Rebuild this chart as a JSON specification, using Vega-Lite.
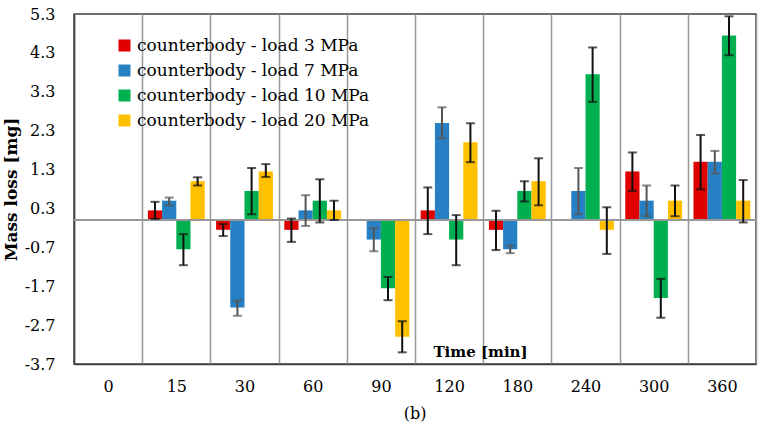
{
  "$schema": "https://vega.github.io/schema/vega-lite/v6.json",
  "width": 682,
  "height": 350,
  "autosize": {"type": "none"},
  "padding": {"left": 74, "top": 14, "right": 12, "bottom": 76},
  "background": "white",
  "config": {
    "font": "DejaVu Serif",
    "view": {"stroke": "#404040", "strokeWidth": 1.5},
    "axis": {"labelOverlap": false},
    "axisY": {"labelOverlap": false}
  },
  "title": {"text": "(b)", "orient": "bottom", "anchor": "middle", "fontSize": 16, "font": "DejaVu Serif", "fontWeight": "normal", "offset": 12, "color": "#000"},
  "data": {
    "values": [
      {"t": "15", "s": "counterbody - load 3 MPa", "v": 0.25, "lo": 0.03, "hi": 0.47},
      {"t": "15", "s": "counterbody - load 7 MPa", "v": 0.5, "lo": 0.38, "hi": 0.58},
      {"t": "15", "s": "counterbody - load 10 MPa", "v": -0.75, "lo": -1.16, "hi": -0.36},
      {"t": "15", "s": "counterbody - load 20 MPa", "v": 1.0, "lo": 0.89, "hi": 1.1},
      {"t": "30", "s": "counterbody - load 3 MPa", "v": -0.25, "lo": -0.41, "hi": -0.1},
      {"t": "30", "s": "counterbody - load 7 MPa", "v": -2.25, "lo": -2.46, "hi": -2.07},
      {"t": "30", "s": "counterbody - load 10 MPa", "v": 0.75, "lo": 0.15, "hi": 1.34},
      {"t": "30", "s": "counterbody - load 20 MPa", "v": 1.25, "lo": 1.11, "hi": 1.44},
      {"t": "60", "s": "counterbody - load 3 MPa", "v": -0.25, "lo": -0.56, "hi": 0.04},
      {"t": "60", "s": "counterbody - load 7 MPa", "v": 0.25, "lo": -0.15, "hi": 0.64},
      {"t": "60", "s": "counterbody - load 10 MPa", "v": 0.5, "lo": -0.06, "hi": 1.05},
      {"t": "60", "s": "counterbody - load 20 MPa", "v": 0.25, "lo": 0.0, "hi": 0.5},
      {"t": "90", "s": "counterbody - load 7 MPa", "v": -0.5, "lo": -0.8, "hi": -0.21},
      {"t": "90", "s": "counterbody - load 10 MPa", "v": -1.75, "lo": -2.06, "hi": -1.46},
      {"t": "90", "s": "counterbody - load 20 MPa", "v": -3.0, "lo": -3.4, "hi": -2.6},
      {"t": "120", "s": "counterbody - load 3 MPa", "v": 0.25, "lo": -0.36, "hi": 0.84},
      {"t": "120", "s": "counterbody - load 7 MPa", "v": 2.5, "lo": 2.1, "hi": 2.9},
      {"t": "120", "s": "counterbody - load 10 MPa", "v": -0.5, "lo": -1.16, "hi": 0.13},
      {"t": "120", "s": "counterbody - load 20 MPa", "v": 2.0, "lo": 1.49, "hi": 2.49},
      {"t": "180", "s": "counterbody - load 3 MPa", "v": -0.25, "lo": -0.77, "hi": 0.24},
      {"t": "180", "s": "counterbody - load 7 MPa", "v": -0.75, "lo": -0.85, "hi": -0.65},
      {"t": "180", "s": "counterbody - load 10 MPa", "v": 0.75, "lo": 0.48, "hi": 1.0},
      {"t": "180", "s": "counterbody - load 20 MPa", "v": 1.0, "lo": 0.38, "hi": 1.59},
      {"t": "240", "s": "counterbody - load 7 MPa", "v": 0.75, "lo": 0.15, "hi": 1.34},
      {"t": "240", "s": "counterbody - load 10 MPa", "v": 3.75, "lo": 3.04, "hi": 4.44},
      {"t": "240", "s": "counterbody - load 20 MPa", "v": -0.25, "lo": -0.87, "hi": 0.33},
      {"t": "300", "s": "counterbody - load 3 MPa", "v": 1.25, "lo": 0.75, "hi": 1.74},
      {"t": "300", "s": "counterbody - load 7 MPa", "v": 0.5, "lo": 0.1, "hi": 0.89},
      {"t": "300", "s": "counterbody - load 10 MPa", "v": -2.0, "lo": -2.51, "hi": -1.51},
      {"t": "300", "s": "counterbody - load 20 MPa", "v": 0.5, "lo": 0.1, "hi": 0.89},
      {"t": "360", "s": "counterbody - load 3 MPa", "v": 1.5, "lo": 0.79, "hi": 2.19},
      {"t": "360", "s": "counterbody - load 7 MPa", "v": 1.5, "lo": 1.2, "hi": 1.78},
      {"t": "360", "s": "counterbody - load 10 MPa", "v": 4.75, "lo": 4.24, "hi": 5.24},
      {"t": "360", "s": "counterbody - load 20 MPa", "v": 0.5, "lo": -0.06, "hi": 1.03}
    ]
  },
  "encoding": {
    "x": {
      "field": "t", "type": "nominal",
      "scale": {"domain": ["0", "15", "30", "60", "90", "120", "180", "240", "300", "360"], "paddingInner": 0, "paddingOuter": 0},
      "axis": {
        "title": "Time [min]", "titleFont": "DejaVu Serif", "titleFontSize": 15, "titleFontWeight": "bold", "titleColor": "#000",
        "titleAnchor": "start", "titleAlign": "center", "titleX": 406, "titleY": -13, "titleBaseline": "middle",
        "labelAngle": 0, "labelFont": "DejaVu Serif", "labelFontSize": 16, "labelColor": "#000", "labelPadding": 14,
        "ticks": false, "tickBand": "extent", "grid": true, "gridColor": "#999999", "gridWidth": 1.5,
        "domainColor": "#404040", "domainWidth": 1.5
      }
    },
    "xOffset": {
      "field": "s", "type": "nominal",
      "scale": {"domain": ["counterbody - load 3 MPa", "counterbody - load 7 MPa", "counterbody - load 10 MPa", "counterbody - load 20 MPa"], "paddingInner": 0, "paddingOuter": 0.4}
    },
    "y": {
      "field": "v", "type": "quantitative",
      "scale": {"domain": [-3.7, 5.3], "nice": false, "zero": false},
      "axis": {
        "title": "Mass loss [mg]", "titleFont": "DejaVu Serif", "titleFontSize": 17, "titleFontWeight": "bold", "titleColor": "#000", "titlePadding": 4,
        "values": [-3.7, -2.7, -1.7, -0.7, 0.3, 1.3, 2.3, 3.3, 4.3, 5.3],
        "format": ".1f",
        "labelExpr": "replace(datum.label, '\u2212', '-')",
        "labelOverlap": false,
        "labelFont": "DejaVu Serif", "labelFontSize": 16, "labelColor": "#000", "labelPadding": 19,
        "ticks": false, "grid": false, "domainColor": "#404040", "domainWidth": 1.5
      }
    }
  },
  "layer": [
    {
      "mark": {"type": "bar"},
      "encoding": {
        "color": {
          "field": "s", "type": "nominal",
          "scale": {"domain": ["counterbody - load 3 MPa", "counterbody - load 7 MPa", "counterbody - load 10 MPa", "counterbody - load 20 MPa"], "range": ["#e00000", "#2780c3", "#00b050", "#ffc000"]},
          "legend": {
            "title": null, "orient": "none", "legendX": 42, "legendY": 23,
            "symbolType": "square", "symbolSize": 144, "symbolStrokeWidth": 0,
            "labelFont": "DejaVu Serif", "labelFontSize": 17, "labelColor": "#000", "labelOffset": 4,
            "rowPadding": 7, "padding": 0, "labelLimit": 400
          }
        }
      }
    },
    {
      "mark": {"type": "rule", "color": "#999999", "strokeWidth": 1.5},
      "encoding": {"y": {"datum": 0}, "x": null, "xOffset": null}
    },
    {
      "mark": {"type": "rule", "color": "#111111", "strokeWidth": 2},
      "encoding": {
        "y": {"field": "lo", "type": "quantitative"}, "y2": {"field": "hi"},
        "strokeWidth": {"condition": {"test": "datum.s == 'counterbody - load 7 MPa'", "value": 1.3}, "value": 2},
        "stroke": {"condition": {"test": "datum.s == 'counterbody - load 7 MPa'", "value": "#555555"}, "value": "#111111"}
      }
    },
    {
      "mark": {"type": "tick", "color": "#111111", "thickness": 2, "size": 9},
      "encoding": {
        "y": {"field": "lo", "type": "quantitative"},
        "strokeWidth": {"condition": {"test": "datum.s == 'counterbody - load 7 MPa'", "value": 1.3}, "value": 2},
        "color": {"condition": {"test": "datum.s == 'counterbody - load 7 MPa'", "value": "#555555"}, "value": "#111111"}
      }
    },
    {
      "mark": {"type": "tick", "color": "#111111", "thickness": 2, "size": 9},
      "encoding": {
        "y": {"field": "hi", "type": "quantitative"},
        "strokeWidth": {"condition": {"test": "datum.s == 'counterbody - load 7 MPa'", "value": 1.3}, "value": 2},
        "color": {"condition": {"test": "datum.s == 'counterbody - load 7 MPa'", "value": "#555555"}, "value": "#111111"}
      }
    }
  ]
}
